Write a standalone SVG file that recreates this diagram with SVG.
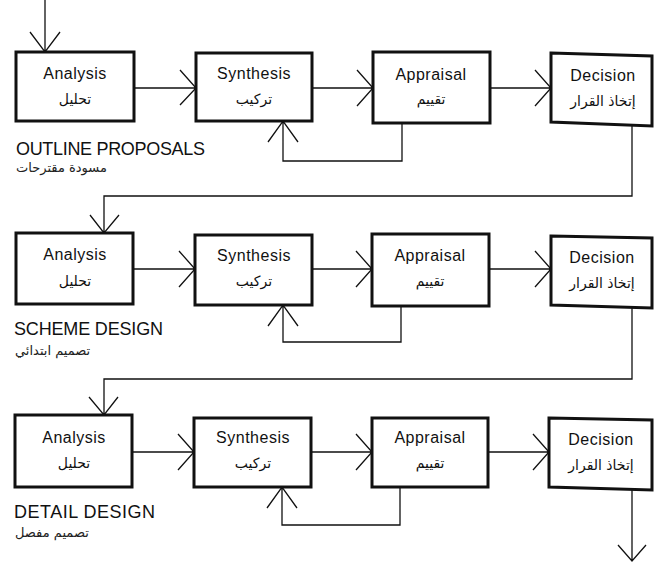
<svg xmlns="http://www.w3.org/2000/svg" width="657" height="566" viewBox="0 0 657 566">
<style>
.box{fill:#fff;stroke:#111;stroke-width:3;stroke-linejoin:miter}
.c{fill:none;stroke:#111;stroke-width:1.3}
.en{font-family:"Liberation Sans","DejaVu Sans",sans-serif;font-size:16px;letter-spacing:0.5px;fill:#111;text-anchor:middle}
.ar{font-family:"DejaVu Sans","Noto Sans",sans-serif;font-size:14px;fill:#111;text-anchor:middle}
.st{font-family:"Liberation Sans","DejaVu Sans",sans-serif;font-size:18px;fill:#111}
.sa{font-family:"DejaVu Sans","Noto Sans",sans-serif;font-size:13px;fill:#222}
</style>
<rect width="657" height="566" fill="#fff"/>
<g id="connectors">
<path class="c" d="M45,0 V52 M30,32 L45,52 L60,32"/>
<path class="c" d="M134,88 H196 M180,70 L196,88 L180,105"/>
<path class="c" d="M312,88 H373 M357,70 L373,88 L357,106"/>
<path class="c" d="M490,88 H551 M535,70 L551,88 L535,106"/>
<path class="c" d="M402,123 V161 H283 V121 M268,142 L283,121 L298,142"/>
<path class="c" d="M632,126 V196 H104 V233 M90,215 L104,233 L119,215"/>
<path class="c" d="M133,269 H195 M179,251 L195,269 L179,287"/>
<path class="c" d="M312,269 H372 M356,251 L372,269 L356,287"/>
<path class="c" d="M489,269 H551 M535,251 L551,269 L535,287"/>
<path class="c" d="M401,306 V342 H283 V305 M268,326 L283,305 L298,326"/>
<path class="c" d="M632,308 V379 H104 V415 M89,397 L104,415 L118,397"/>
<path class="c" d="M132,452 H194 M178,434 L194,452 L178,470"/>
<path class="c" d="M311,452 H372 M356,434 L372,452 L356,470"/>
<path class="c" d="M488,452 H549 M533,434 L549,452 L533,470"/>
<path class="c" d="M400,487 V525 H282 V487 M267,508 L282,487 L297,508"/>
<path class="c" d="M632,490 V561 M618,545 L632,561 L646,545"/>
</g>
<g id="analysis1"><rect class="box" x="16" y="52" width="118" height="69"/><text class="en" x="75" y="79">Analysis</text><text class="ar" x="75" y="104">تحليل</text></g>
<g id="synthesis1"><rect class="box" x="196" y="53" width="116" height="68"/><text class="en" x="254" y="79">Synthesis</text><text class="ar" x="254" y="104">تركيب</text></g>
<g id="appraisal1"><rect class="box" x="373" y="52" width="117" height="71"/><text class="en" x="431" y="80">Appraisal</text><text class="ar" x="431" y="104">تقييم</text></g>
<g id="decision1"><polygon class="box" points="551,53 652,56 652,126 551,122"/><text class="en" x="603" y="81">Decision</text><text class="ar" x="603" y="106">إتخاذ القرار</text></g>
<g id="stage1"><text class="st" x="16" y="155" textLength="189">OUTLINE PROPOSALS</text><text class="sa" x="16" y="172">مسودة مقترحات</text></g>

<g id="analysis2"><rect class="box" x="16" y="233" width="117" height="71"/><text class="en" x="75" y="260">Analysis</text><text class="ar" x="75" y="286">تحليل</text></g>
<g id="synthesis2"><rect class="box" x="195" y="235" width="117" height="70"/><text class="en" x="254" y="261">Synthesis</text><text class="ar" x="254" y="286">تركيب</text></g>
<g id="appraisal2"><rect class="box" x="372" y="234" width="117" height="72"/><text class="en" x="430" y="261">Appraisal</text><text class="ar" x="430" y="286">تقييم</text></g>
<g id="decision2"><polygon class="box" points="551,236 652,238 652,308 551,305"/><text class="en" x="602" y="263">Decision</text><text class="ar" x="602" y="288">إتخاذ القرار</text></g>
<g id="stage2"><text class="st" x="14" y="335" textLength="149">SCHEME DESIGN</text><text class="sa" x="15" y="355">تصميم ابتدائي</text></g>

<g id="analysis3"><rect class="box" x="15" y="415" width="117" height="72"/><text class="en" x="74" y="443">Analysis</text><text class="ar" x="74" y="468">تحليل</text></g>
<g id="synthesis3"><rect class="box" x="194" y="418" width="117" height="69"/><text class="en" x="253" y="443">Synthesis</text><text class="ar" x="253" y="468">تركيب</text></g>
<g id="appraisal3"><rect class="box" x="372" y="418" width="116" height="69"/><text class="en" x="430" y="443">Appraisal</text><text class="ar" x="430" y="468">تقييم</text></g>
<g id="decision3"><polygon class="box" points="549,418 652,420 652,490 549,487"/><text class="en" x="601" y="445">Decision</text><text class="ar" x="601" y="470">إتخاذ القرار</text></g>
<g id="stage3"><text class="st" x="14" y="518" textLength="141">DETAIL DESIGN</text><text class="sa" x="15" y="537">تصميم مفصل</text></g>
</svg>
